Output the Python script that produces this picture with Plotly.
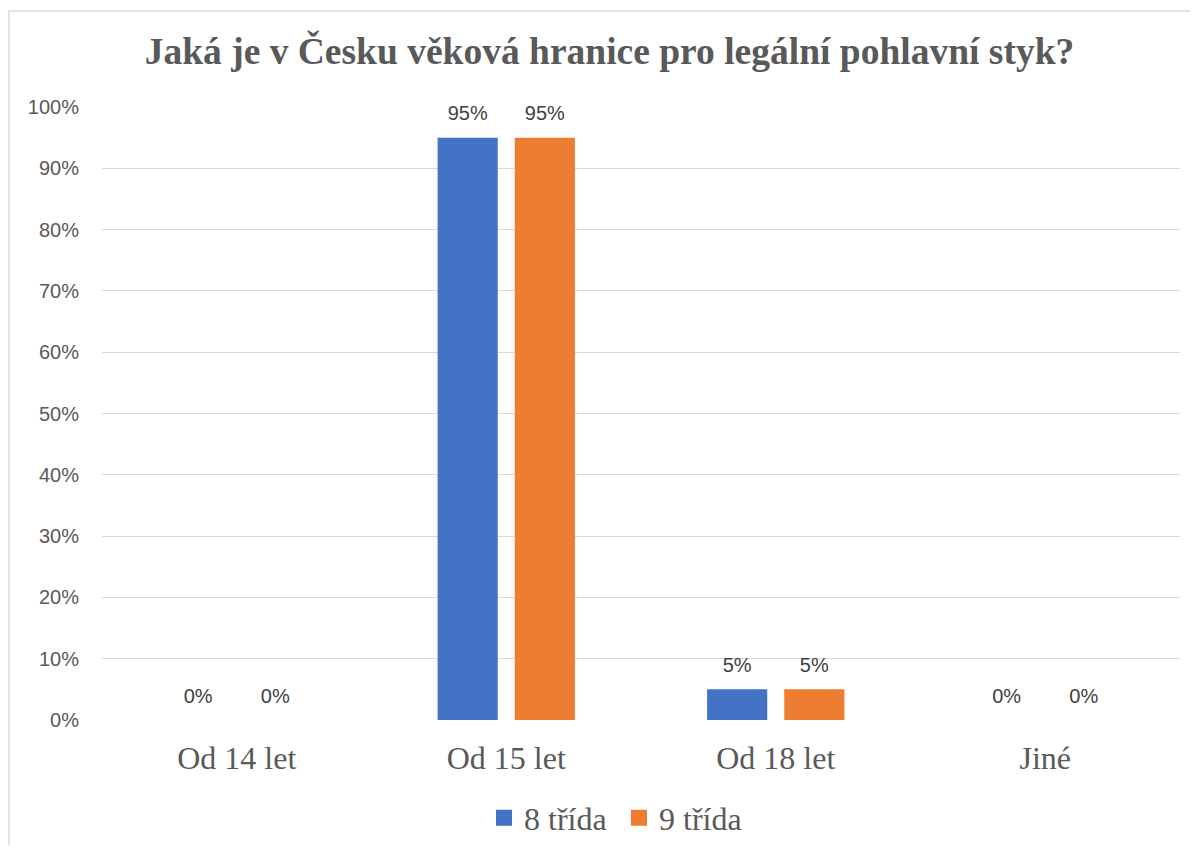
import plotly.graph_objects as go

kategorie = ["Od 14 let", "Od 15 let", "Od 18 let", "Jiné"]
trida_8 = [0, 95, 5, 0]
trida_9 = [0, 95, 5, 0]
y_ticks = [0, 10, 20, 30, 40, 50, 60, 70, 80, 90, 100]
y_tick_text = [f"{v}%" for v in y_ticks]

BARVY = {"8 třída": "#4472C4", "9 třída": "#ED7D31"}
SERIF = "Liberation Serif, Times New Roman, serif"
SANS = "Liberation Sans, Arial, sans-serif"

# stranka ma okraj 8 px, proto je obrazek o 16 px mensi
W, H = 1182, 837
ML, MR, MT, MB = 94, 10, 99, 125
pw, ph = W - ML - MR, H - MT - MB

fig = go.Figure()
serie = [("8 třída", trida_8, "a"), ("9 třída", trida_9, "b")]
for name, vals, grp in serie:
    fig.add_trace(go.Bar(
        x=kategorie, y=vals, name=name, offsetgroup=grp,
        marker=dict(color=BARVY[name], line=dict(width=0)),
        showlegend=False, hoverinfo="skip",
    ))

# popisky hodnot nad sloupci
for name, vals, grp in serie:
    fig.add_trace(go.Scatter(
        x=kategorie, y=vals, mode="markers+text", offsetgroup=grp,
        text=[f"{v}%" for v in vals], textposition="top center",
        textfont=dict(family=SANS, size=20, color="#404040"),
        marker=dict(size=18, color="rgba(0,0,0,0)"),
        cliponaxis=False, showlegend=False, hoverinfo="skip",
    ))

# legenda se ctvercovymi znackami
for name, vals, grp in serie:
    fig.add_trace(go.Scatter(
        x=[None], y=[None], mode="markers", name=name, offsetgroup=grp,
        marker=dict(symbol="square", size=16, color=BARVY[name]),
    ))

# ramecek grafu
fig.add_shape(
    type="rect", xref="paper", yref="paper",
    x0=(1 - ML) / pw, x1=(W + 20 - ML) / pw,
    y0=-(MB + 20) / ph, y1=(H - MB - 3) / ph,
    line=dict(color="#d9d9d9", width=1.5), layer="below",
)

fig.update_layout(
    width=W, height=H,
    margin=dict(l=ML, r=MR, t=MT, b=MB),
    paper_bgcolor="white", plot_bgcolor="white",
    title=dict(
        text="<b>Jaká je v Česku věková hranice pro legální pohlavní styk?</b>",
        font=dict(family=SERIF, size=37.5, color="#595959"),
        x=601.5 / W, xanchor="center", y=1 - 43 / H, yanchor="middle",
    ),
    barmode="group", bargap=0.4275, bargroupgap=0.22,
    scattermode="group",
    showlegend=True,
    legend=dict(
        orientation="h", xref="container", yref="container",
        x=611 / W, xanchor="center",
        y=(H - 810) / H, yanchor="middle",
        font=dict(family=SERIF, size=32, color="#595959"),
        itemwidth=30, entrywidth=90,
    ),
    xaxis=dict(
        showgrid=False, showline=False, zeroline=False,
        tickfont=dict(family=SERIF, size=32, color="#595959"),
        ticks="", ticklabelstandoff=16,
    ),
    yaxis=dict(
        range=[0, 100], tickvals=y_ticks, ticktext=y_tick_text,
        showgrid=True, gridcolor="#d9d9d9", gridwidth=1.3,
        zeroline=False, showline=False,
        tickfont=dict(family=SANS, size=20, color="#595959"),
        ticks="", ticklabelstandoff=22,
    ),
)

fig.write_html("out.html")
